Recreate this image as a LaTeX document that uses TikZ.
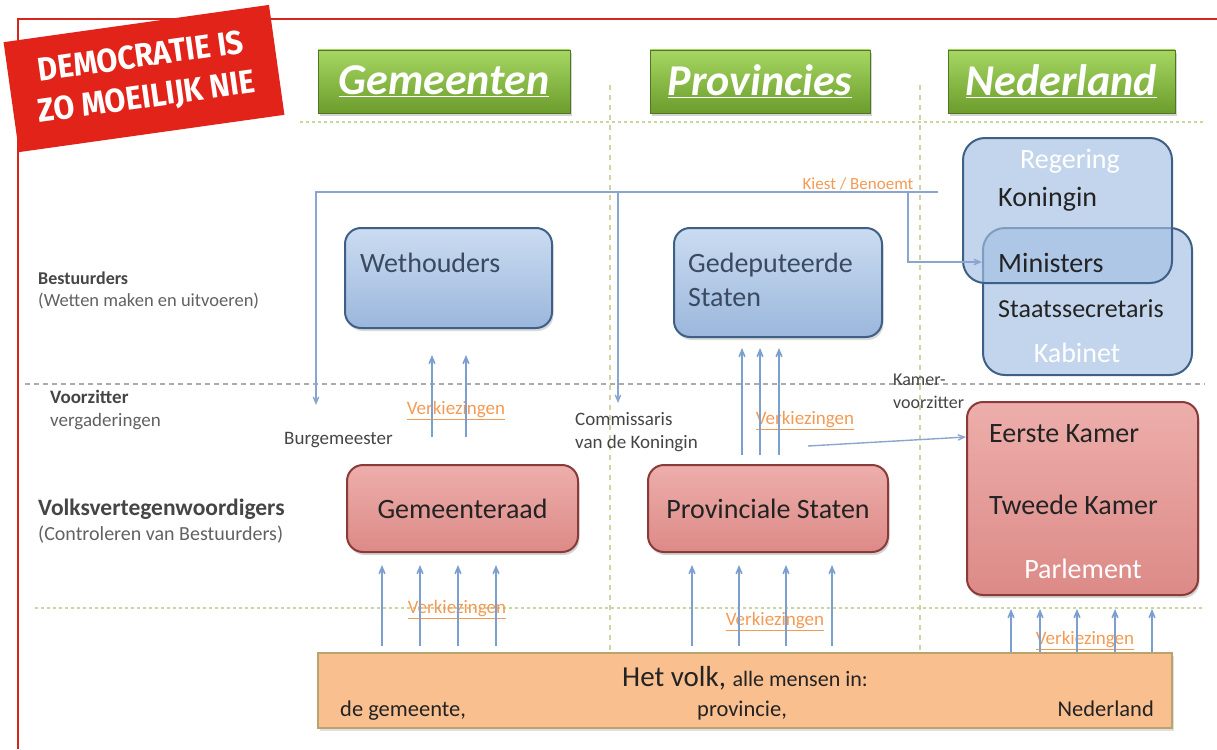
\documentclass[tikz,border=0pt]{standalone}
\usepackage{fontspec}
\setmainfont{Carlito}
\newfontfamily\bannerfont[FakeStretch=0.92]{Fira Sans}
\usetikzlibrary{arrows, positioning, shadows}

\definecolor{framered}{HTML}{D9261C}
\definecolor{bannerred}{HTML}{E2231A}
\definecolor{hdtop}{HTML}{A6D762}
\definecolor{hdbot}{HTML}{6C9C2C}
\definecolor{bltop}{HTML}{CBDCF1}
\definecolor{blbot}{HTML}{9BB7DC}
\definecolor{blmid}{HTML}{A3BFE2}
\definecolor{bluebd}{HTML}{3E5F86}
\definecolor{rdtop}{HTML}{EDAEAB}
\definecolor{rdbot}{HTML}{DC8A87}
\definecolor{redbd}{HTML}{8A3A37}
\definecolor{volkfill}{HTML}{F9BF8F}
\definecolor{volkbd}{HTML}{B8A46C}
\definecolor{arrowblue}{HTML}{7C9FCF}
\definecolor{linkblue}{HTML}{8AA6CE}
\definecolor{labelorange}{HTML}{F39A55}
\definecolor{gridgreen}{HTML}{C6D89E}
\definecolor{gridgray}{HTML}{ABABAB}
\definecolor{gridyellow}{HTML}{D2D2A4}
\definecolor{txtdark}{HTML}{232323}
\definecolor{txtblue}{HTML}{3A4A60}
\definecolor{txtgray}{HTML}{454545}

\tikzstyle{redframe}=[draw=framered, line width=2.2pt]
\tikzstyle{banner}=[rectangle, fill=bannerred, minimum width=268pt, minimum height=111pt, text=white, align=center, font=\bannerfont\bfseries\fontsize{33}{41}\selectfont]
\tikzstyle{header}=[rectangle, draw=hdbot!75!black, top color=hdtop, bottom color=hdbot, minimum height=63pt, inner sep=0pt, text=white, font=\fontsize{44}{48}\selectfont\bfseries\itshape, drop shadow={opacity=0.35, shadow xshift=1.5pt, shadow yshift=-3pt}]
\tikzstyle{bestuur}=[rectangle, rounded corners=16pt, draw=bluebd, line width=2pt, top color=bltop, bottom color=blbot, drop shadow={opacity=0.3, shadow xshift=1.5pt, shadow yshift=-3pt}]
\tikzstyle{regering}=[rectangle, rounded corners=22pt, draw=bluebd, line width=2pt, fill=blmid, fill opacity=0.65]
\tikzstyle{kamer}=[rectangle, rounded corners=16pt, draw=redbd, line width=2pt, top color=rdtop, bottom color=rdbot, drop shadow={opacity=0.35, shadow xshift=1.5pt, shadow yshift=-3pt}, font=\fontsize{28}{34}\selectfont, text=txtdark]
\tikzstyle{volk}=[rectangle, draw=volkbd, line width=1.5pt, fill=volkfill, drop shadow={opacity=0.25, shadow xshift=1.5pt, shadow yshift=-3pt}]
\tikzstyle{boxtext}=[inner sep=0pt, anchor=base west, font=\fontsize{28}{34}\selectfont, text=txtdark]
\tikzstyle{whitetext}=[inner sep=0pt, anchor=base, font=\fontsize{28}{34}\selectfont, text=white]
\tikzstyle{sidelabel}=[inner sep=0pt, anchor=base west, font=\fontsize{19}{23}\selectfont, text=txtgray, align=left]
\tikzstyle{verkiezing}=[inner sep=0pt, font=\fontsize{19}{22}\selectfont, text=labelorange]
\tikzstyle{vote}=[->, draw=arrowblue, line width=1.6pt]
\tikzstyle{link}=[draw=linkblue, line width=1.4pt]
\tikzstyle{dotline}=[draw=gridgreen, line width=1.8pt, dash pattern=on 2.5pt off 3.5pt]
\tikzstyle{dashline}=[draw=gridgray, line width=1.2pt, dash pattern=on 5pt off 4pt]
\tikzstyle{colline}=[draw=gridyellow, line width=1.3pt, dash pattern=on 5pt off 5pt]

\begin{document}
\begin{tikzpicture}[x=1pt, y=-1pt, >=angle 45]
\useasboundingbox (0,0) rectangle (1217,749);

% raster
\draw[dotline] (300,122) -- (1205,122);
\draw[dashline] (25,384) -- (1205,384);
\draw[dotline] (35,608) -- (1205,608);
\draw[colline] (610,85) -- (610,650);
\draw[colline] (920,85) -- (920,650);

% kolommen
\node[header, minimum width=252pt] (gem) at (444,81.5) {\underline{Gemeenten}};
\node[header, minimum width=220pt] (prov) at (760,81.5) {\underline{Provincies}};
\node[header, minimum width=227pt] (ned) at (1061.5,81.5) {\underline{Nederland}};

% rijen
\node[sidelabel, font=\fontsize{18}{22}\selectfont\bfseries] (best) at (38,284) {Bestuurders};
\node[sidelabel, font=\fontsize{18.5}{22}\selectfont, text=txtgray!85] (best-sub) at (38,306) {(Wetten maken en uitvoeren)};
\node[sidelabel, font=\fontsize{19}{23}\selectfont\bfseries] (vz) at (50,403) {Voorzitter};
\node[sidelabel, text=txtgray!85] (vz-sub) at (50,426) {vergaderingen};
\node[sidelabel, font=\fontsize{23.5}{27}\selectfont\bfseries] (vv) at (38,515) {Volksvertegenwoordigers};
\node[sidelabel, font=\fontsize{20}{23}\selectfont, text=txtgray!85] (vv-sub) at (38,540) {(Controleren van Bestuurders)};

% bestuurders
\node[bestuur, minimum width=207pt, minimum height=100pt] (weth) at (448.5,278) {};
\node[boxtext, text=txtblue] (weth-t) at (360,272) {Wethouders};
\node[bestuur, minimum width=208pt, minimum height=109pt] (ged) at (778,282.5) {};
\node[boxtext, text=txtblue] (ged-t1) at (688,272) {Gedeputeerde};
\node[boxtext, text=txtblue] (ged-t2) at (688,306) {Staten};

\node[regering, minimum width=209pt, minimum height=147pt] (kabinet) at (1087.5,301.5) {};
\node[regering, minimum width=209pt, minimum height=145pt] (regering) at (1067.5,210.5) {};
\node[whitetext] (reg-t) at (1070,168) {Regering};
\node[boxtext] (koningin) at (998,206) {Koningin};
\node[boxtext] (ministers) at (998,272) {Ministers};
\node[boxtext, font=\fontsize{26}{30}\selectfont] (staats) at (998,317) {Staatssecretaris};
\node[whitetext] (kab-t) at (1077,362) {Kabinet};

% volksvertegenwoordigers
\node[kamer, minimum width=231pt, minimum height=87pt] (gemraad) at (462.5,508.5) {Gemeenteraad};
\node[kamer, minimum width=240pt, minimum height=87pt] (provstaten) at (768,508.5) {Provinciale Staten};
\node[kamer, minimum width=231pt, minimum height=193pt] (parlement) at (1082.5,498.5) {};
\node[boxtext] (eerste) at (989,442) {Eerste Kamer};
\node[boxtext] (tweede) at (989,514) {Tweede Kamer};
\node[whitetext] (parl-t) at (1083,578) {Parlement};

% het volk
\node[volk, minimum width=854pt, minimum height=75pt] (volk) at (745,690.5) {};
\node[inner sep=0pt, anchor=base, text=txtdark] (volk-t) at (745,686)
  {\fontsize{29}{34}\selectfont Het volk, \fontsize{22}{26}\selectfont alle mensen in:};
\node[boxtext, font=\fontsize{22.5}{26}\selectfont] (in-gem) at (340,716) {de gemeente,};
\node[boxtext, font=\fontsize{22.5}{26}\selectfont] (in-prov) at (697,716) {provincie,};
\node[boxtext, anchor=base east, font=\fontsize{22.5}{26}\selectfont] (in-ned) at (1154,716) {Nederland};

% voorzitters
\node[sidelabel] (burg) at (284,444) {Burgemeester};
\node[sidelabel, anchor=north west] (cvdk) at (575,412) {Commissaris\\van de Koningin};
\node[sidelabel, anchor=north west, font=\fontsize{18}{23}\selectfont] (kv) at (893,374) {Kamer-\\voorzitter};

% verkiezingen
\node[verkiezing] (vk1) at (456,411) {\underline{Verkiezingen}};
\node[verkiezing] (vk2) at (805,421) {\underline{Verkiezingen}};
\node[verkiezing] (vk3) at (457,610) {\underline{Verkiezingen}};
\node[verkiezing] (vk4) at (775,622) {\underline{Verkiezingen}};
\node[verkiezing] (vk5) at (1085,641) {\underline{Verkiezingen}};
\node[verkiezing, font=\fontsize{17}{20}\selectfont] (kiest-t) at (858,184) {Kiest / Benoemt};

\coordinate (weth-in) at (0,355);
\coordinate (gr-out) at (0,437);
\coordinate (ged-in) at (0,348);
\coordinate (ps-out) at (0,455);
\coordinate (kamer-in) at (0,565);
\coordinate (volk-out) at (0,646);
\coordinate (parl-in) at (0,609);

\foreach \x in {432,466}
  \draw[vote] (\x,0 |- gr-out) -- (\x,0 |- weth-in);
\foreach \x in {742,760,779}
  \draw[vote] (\x,0 |- ps-out) -- (\x,0 |- ged-in);
\foreach \x in {382,420,458,496,692,739,786,832}
  \draw[vote] (\x,0 |- volk-out) -- (\x,0 |- kamer-in);
\foreach \x in {1011,1040,1077,1115,1152}
  \draw[vote] (\x,0 |- volk.north) -- (\x,0 |- parl-in);

% kiest / benoemt
\coordinate (kiest) at (938,192);
\coordinate (knik) at (908,192);
\coordinate (burg-in) at (316,405);
\coordinate (cvdk-in) at (618,403);
\coordinate (kv-start) at (808,446);
\draw[link, ->] (kiest) -| (burg-in);
\draw[link, ->] (cvdk-in |- kiest) -- (cvdk-in);
\draw[link, ->] (knik) |- (kabinet.west |- 0,262);
\draw[link, ->] (kv-start) -- (parlement.west |- 0,437);

% kader en banier
\draw[redframe] (18,749) -- (18,19) -- (1217,19);
\node[banner, rotate=8] (banier) at (144,78.5) {DEMOCRATIE IS\\ZO MOEILIJK NIE};
\end{tikzpicture}
\end{document}
